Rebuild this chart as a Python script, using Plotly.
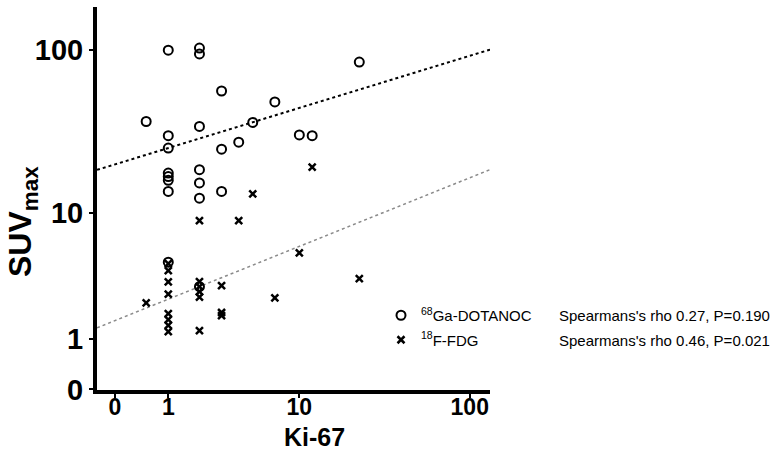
import numpy as np
import plotly.graph_objects as go

# ---- data ----
ga_ki67 = [1, 2, 2, 23, 3, 7, 0.5, 5, 2, 1, 10, 12, 4, 1, 3, 2, 1, 1, 1, 2, 1, 3, 2, 1, 2]
ga_suv = [100, 103, 95, 85, 57, 49, 37.3, 36.8, 34.8, 30.6, 30.9, 30.6, 27.9, 25.7, 25.3,
          18.9, 18.0, 17.1, 16.2, 15.6, 13.8, 13.8, 12.5, 4.65, 3.05]

fdg_ki67 = [0.5, 1, 1, 1, 1, 1, 1, 1, 1, 2, 2, 2, 2, 2, 2, 3, 3, 3, 4, 5, 7, 10, 12, 23]
fdg_suv = [2.25, 4.54, 4.04, 3.32, 2.66, 1.81, 1.59, 1.39, 1.2, 8.93, 3.34, 3.05, 2.79, 2.51,
           1.23, 3.11, 1.85, 1.73, 8.93, 13.3, 2.48, 5.41, 19.6, 3.52]

# regression lines in log10(value+1) space: (intercept, slope)
ga_fit = (1.330, 0.320)
fdg_fit = (0.407, 0.421)

tick_values = [0, 1, 10, 100]
tick_labels = ["0", "1", "10", "100"]

ga_stats = "Spearmans's rho 0.27, P=0.190"
fdg_stats = "Spearmans's rho 0.46, P=0.021"

# ---- figure ----
x_range = [-0.1017, 2.1186]
y_range = [-0.003, 2.2596]

FONT = "Liberation Sans, Arial, sans-serif"

fig = go.Figure()

lx = np.linspace(x_range[0], x_range[1], 50)
for (a, b), col, w in [(ga_fit, "black", 2), (fdg_fit, "#8a8a8a", 1.5)]:
    fig.add_trace(go.Scatter(x=10 ** lx, y=10 ** (a + b * lx), mode="lines",
                             line=dict(color=col, width=w, dash="dot"),
                             showlegend=False, hoverinfo="skip"))

fig.add_trace(go.Scatter(
    x=np.array(ga_ki67) + 1, y=np.array(ga_suv) + 1, mode="markers",
    name="<sup>68</sup>Ga-DOTANOC", legendgroup="a",
    marker=dict(symbol="circle-open", size=9, color="black", line=dict(width=2, color="black"))))
fig.add_trace(go.Scatter(
    x=np.array(fdg_ki67) + 1, y=np.array(fdg_suv) + 1, mode="markers",
    name="<sup>18</sup>F-FDG", legendgroup="b",
    marker=dict(symbol="x-thin", size=7, color="black", line=dict(width=2.5, color="black"))))

tv = [v + 1 for v in tick_values]
axis_common = dict(type="log", showline=True, linewidth=4, linecolor="black",
                   showgrid=False, zeroline=False, ticks="outside", ticklen=4,
                   tickwidth=2, tickcolor="black", tickvals=tv, ticktext=tick_labels)

fig.update_xaxes(range=x_range, tickfont=dict(family=FONT, size=23, color="black", weight="bold"),
                 ticklabelstandoff=-11, **axis_common)
fig.update_yaxes(range=y_range, tickfont=dict(family=FONT, size=29, color="black", weight="bold"),
                 **axis_common)

L, R, T, B = 97, 283, 7, 69
W, H = 773, 459
pw, ph = W - L - R, H - T - B

def px(xp):
    return (xp - L) / pw

def py(yp):
    return (H - B - yp) / ph

fig.add_annotation(text="SUV<sub>max</sub>", textangle=-90, xref="paper", yref="paper",
                   x=px(22), y=py(222), showarrow=False, xanchor="center", yanchor="middle",
                   font=dict(family=FONT, size=32, color="black", weight="bold"))
fig.add_annotation(text="Ki-67", xref="paper", yref="paper",
                   x=px(314), y=py(437), showarrow=False, xanchor="center", yanchor="middle",
                   font=dict(family=FONT, size=25, color="black", weight="bold"))
for txt, yp in [(ga_stats, 315), (fdg_stats, 340)]:
    fig.add_annotation(text=txt, xref="paper", yref="paper", x=px(557), y=py(yp),
                       showarrow=False, xanchor="left", yanchor="middle",
                       font=dict(family=FONT, size=15, color="black"))

fig.update_layout(
    width=W, height=H, margin=dict(l=L, r=R, t=T, b=B),
    paper_bgcolor="white", plot_bgcolor="white",
    showlegend=True,
    legend=dict(x=px(381), y=py(299), xanchor="left", yanchor="top",
                bgcolor="rgba(0,0,0,0)", font=dict(family=FONT, size=15, color="black"),
                itemwidth=30, tracegroupgap=2),
)

fig.write_html("out.html")
